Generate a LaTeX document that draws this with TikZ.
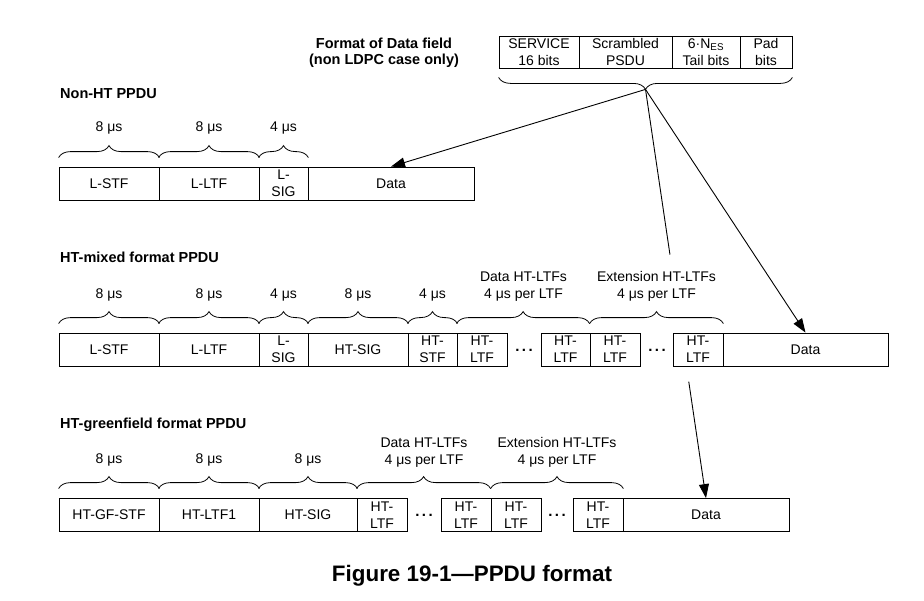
\documentclass[tikz,border=0pt]{standalone}
\usepackage{fontspec}
\setmainfont{Liberation Sans}
\usetikzlibrary{decorations.pathreplacing,arrows.meta,calc}
\begin{document}
\begin{tikzpicture}[x=1pt,y=-1pt,
  cell/.style={draw, line width=0.8pt, minimum height=33pt, inner sep=0pt, align=center, font=\fontsize{14}{17}\selectfont},
  tcell/.style={cell, minimum height=32pt},
  lbl/.style={inner sep=0pt, anchor=base, align=center, font=\fontsize{14}{17}\selectfont},
  ttl/.style={inner sep=0pt, anchor=base west, font=\fontsize{14.5}{17}\selectfont\bfseries},
  dots/.style={inner sep=0pt, anchor=base, font=\fontsize{15}{17}\selectfont\bfseries},
  brc/.style={decorate, decoration={brace, amplitude=12pt}, line width=0.8pt},
  arr/.style={line width=0.9pt, -{Triangle[length=14pt,width=10pt]}},
  seg/.style={line width=0.9pt}]
\useasboundingbox (0,0) rectangle (924,600);

% Data field format
\node[inner sep=0pt, anchor=north, align=center, font=\fontsize{14.5}{16}\selectfont\bfseries] (ftitle) at (384,37.5) {Format of Data field\\(non LDPC case only)};
\node[tcell, minimum width=80pt] (t1) at (539,52) {SERVICE\\16 bits};
\node[tcell, minimum width=93pt] (t2) at (625.5,52) {Scrambled\\PSDU};
\node[tcell, minimum width=68pt] (t3) at (706,52) {6·N\textsubscript{ES}\\Tail bits};
\node[tcell, minimum width=52pt] (t4) at (766,52) {Pad\\bits};
\draw[brc] ([yshift=-9pt]t4.south east) -- ([yshift=-9pt]t1.south west);
\coordinate (tip) at ($(t1.south west)!0.5!(t4.south east)+(0,21)$);

% Non-HT PPDU
\node[ttl] (nttl) at (60,98) {Non-HT PPDU};
\node[cell, minimum width=100pt] (n1) at (109,183.5) {L-STF};
\node[cell, minimum width=100pt] (n2) at (209,183.5) {L-LTF};
\node[cell, minimum width=49pt] (n3) at (283.5,183.5) {L-\\SIG};
\node[cell, minimum width=166pt] (n4) at (391,183.5) {Data};
\foreach \n in {n1,n2,n3}
  \draw[brc] ([yshift=9pt]\n.north west) -- ([yshift=9pt]\n.north east);
\node[lbl] (nl1) at (109,131) {8 μs};
\node[lbl] (nl2) at (209,131) {8 μs};
\node[lbl] (nl3) at (283.5,131) {4 μs};

% HT-mixed format PPDU
\node[ttl] (mttl) at (60,262) {HT-mixed format PPDU};
\node[cell, minimum width=100pt] (m1) at (109,349.5) {L-STF};
\node[cell, minimum width=100pt] (m2) at (209,349.5) {L-LTF};
\node[cell, minimum width=49pt] (m3) at (283.5,349.5) {L-\\SIG};
\node[cell, minimum width=100pt] (m4) at (358,349.5) {HT-SIG};
\node[cell, minimum width=49pt] (m5) at (432.5,349.5) {HT-\\STF};
\node[cell, minimum width=50pt] (m6) at (482,349.5) {HT-\\LTF};
\node[dots] (md1) at (524,351) {.\kern2.5pt.\kern2.5pt.};
\node[cell, minimum width=49pt] (m7) at (565.5,349.5) {HT-\\LTF};
\node[cell, minimum width=50pt] (m8) at (615,349.5) {HT-\\LTF};
\node[dots] (md2) at (657,351) {.\kern2.5pt.\kern2.5pt.};
\node[cell, minimum width=50pt] (m9) at (698,349.5) {HT-\\LTF};
\node[cell, minimum width=165pt] (m10) at (805.5,349.5) {Data};
\foreach \n in {m1,m2,m3,m4,m5}
  \draw[brc] ([yshift=9pt]\n.north west) -- ([yshift=9pt]\n.north east);
\draw[brc] ([yshift=9pt]m6.north west) -- ([yshift=9pt]m8.north west);
\draw[brc] ([yshift=9pt]m8.north west) -- ([yshift=9pt]m9.north east);
\node[lbl] (ml1) at (109,298) {8 μs};
\node[lbl] (ml2) at (209,298) {8 μs};
\node[lbl] (ml3) at (283.5,298) {4 μs};
\node[lbl] (ml4) at (358,298) {8 μs};
\node[lbl] (ml5) at (432.5,298) {4 μs};
\node[lbl] (ml6) at (523.5,298) {Data HT-LTFs\\4 μs per LTF};
\node[lbl] (ml7) at (656.5,298) {Extension HT-LTFs\\4 μs per LTF};

% HT-greenfield format PPDU
\node[ttl] (gttl) at (60,428) {HT-greenfield format PPDU};
\node[cell, minimum width=100pt] (g1) at (109,515) {HT-GF-STF};
\node[cell, minimum width=100pt] (g2) at (209,515) {HT-LTF1};
\node[cell, minimum width=98pt] (g3) at (308,515) {HT-SIG};
\node[cell, minimum width=50pt] (g4) at (382,515) {HT-\\LTF};
\node[dots] (gd1) at (424,516.5) {.\kern2.5pt.\kern2.5pt.};
\node[cell, minimum width=50pt] (g5) at (466,515) {HT-\\LTF};
\node[cell, minimum width=50pt] (g6) at (516,515) {HT-\\LTF};
\node[dots] (gd2) at (557,516.5) {.\kern2.5pt.\kern2.5pt.};
\node[cell, minimum width=50pt] (g7) at (598,515) {HT-\\LTF};
\node[cell, minimum width=166pt] (g8) at (706,515) {Data};
\foreach \n in {g1,g2,g3}
  \draw[brc] ([yshift=9.5pt]\n.north west) -- ([yshift=9.5pt]\n.north east);
\draw[brc] ([yshift=9.5pt]g4.north west) -- ([yshift=9.5pt]g6.north west);
\draw[brc] ([yshift=9.5pt]g6.north west) -- ([yshift=9.5pt]g7.north east);
\node[lbl] (gl1) at (109,463) {8 μs};
\node[lbl] (gl2) at (209,463) {8 μs};
\node[lbl] (gl3) at (308,463) {8 μs};
\node[lbl] (gl4) at (424,464) {Data HT-LTFs\\4 μs per LTF};
\node[lbl] (gl5) at (557,464) {Extension HT-LTFs\\4 μs per LTF};

% connectors
\draw[arr] (tip) -- (n4.north);
\draw[arr] (tip) -- (m10.north);
\draw[seg] (tip) -- ($(tip)!0.404!(g8.north)$);
\draw[arr] ($(tip)!0.715!(g8.north)$) -- (g8.north);

% caption
\node[inner sep=0pt, anchor=base, font=\fontsize{22.4}{26}\selectfont\bfseries] (cap) at (472,581) {Figure 19-1—PPDU format};
\end{tikzpicture}
\end{document}
